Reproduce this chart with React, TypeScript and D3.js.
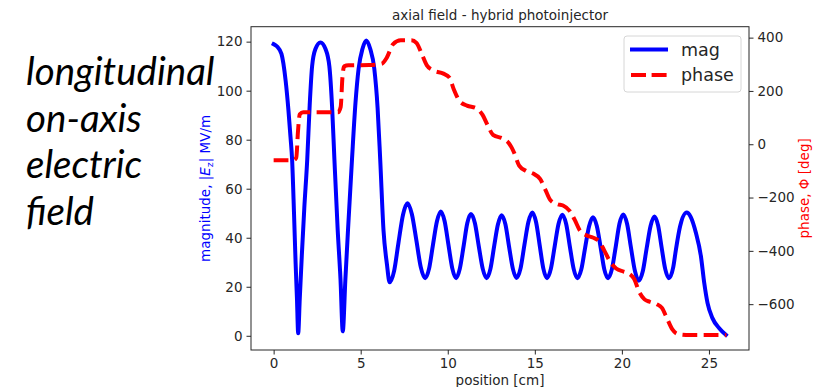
import { useEffect, useRef } from "react"
import * as d3 from "d3"

// magnitude |Ez| (MV/m) vs position (cm)
const magX = [0, 0.2, 0.45, 0.69, 0.85, 0.97, 1.06, 1.17, 1.26, 1.34, 1.41,
  1.5, 1.62, 1.76, 1.93, 2.07, 2.21, 2.4, 2.69, 2.98, 3.2, 3.36, 3.49, 3.68, 3.84, 3.97,
  4.12, 4.27, 4.5, 4.7, 4.88, 5.1, 5.32, 5.55, 5.78, 5.97, 6.12, 6.31, 6.51, 6.66,
  6.92, 7.17, 7.43, 7.69, 7.94, 8.2, 8.45, 8.7, 8.93, 9.15, 9.38, 9.6, 9.82, 10.04, 10.26, 10.48,
  10.69, 10.91, 11.12, 11.33, 11.56, 11.78, 12.01, 12.23, 12.45, 12.66, 12.88, 13.09, 13.31, 13.52, 13.74, 13.95,
  14.18, 14.4, 14.63, 14.86, 15.07, 15.28, 15.49, 15.7, 15.92, 16.14, 16.36, 16.58, 16.8, 17.01, 17.23, 17.44,
  17.67, 17.89, 18.12, 18.34, 18.56, 18.78, 18.99, 19.21, 19.43, 19.65, 19.86, 20.08, 20.3, 20.52, 20.75, 20.97,
  21.2, 21.42, 21.65, 21.87, 22.08, 22.28, 22.49, 22.7, 22.95, 23.1, 23.34, 23.72,
  23.95, 24.25, 24.54, 24.73, 24.92, 25.2, 25.59, 25.97]
const magY = [119, 118, 115, 104, 92, 81, 72, 50, 30, 15, 1,
  15, 33, 52, 72, 94, 110, 117, 119.7, 117, 110, 93, 72, 43, 23, 1.8,
  23, 43, 72, 95, 109, 117, 120.5, 117, 109, 93, 72, 43, 29, 21.8,
  26.5, 38, 49.4, 54.1, 49.6, 38.8, 28, 23.5, 27.5, 37.1, 46.7, 50.7, 46.7, 37.1, 27.5, 23.5,
  27.3, 36.6, 45.9, 49.7, 45.9, 36.6, 27.3, 23.5, 27.3, 36.4, 45.4, 49.2, 45.5, 36.4, 27.3, 23.6,
  27.5, 37, 46.4, 50.3, 46.4, 36.9, 27.4, 23.5, 27.3, 36.5, 45.6, 49.4, 45.6, 36.5, 27.3, 23.5,
  27.1, 36, 44.8, 48.4, 44.8, 36, 27.1, 23.5, 27.3, 36.5, 45.7, 49.5, 45.6, 36, 26.4, 22.5,
  26.3, 35.6, 44.9, 48.7, 45, 36.1, 27.2, 23.5, 28, 35, 44.6, 50.3,
  48.5, 42, 32.4, 21.5, 13.3, 7.2, 3.1, 0.4]

// phase (deg) vs position (cm)
const phaseX = [0, 1.15, 1.3, 1.4, 1.5, 1.7, 3.7, 3.85, 3.95, 4.05, 4.3, 5.5, 6.2, 6.5, 6.85, 7.3, 7.9, 8.2, 8.5, 8.8,
  9.2, 9.75, 10.1, 10.35, 10.7, 11.1, 11.66, 12.0, 12.3, 12.6, 13.2, 13.5, 13.8, 14.1, 14.5, 14.9, 15.3, 15.6, 15.9,
  16.3, 16.62, 17.0, 17.3, 17.6, 18.0, 18.33, 18.7, 19.0, 19.3, 19.67, 20.1, 20.4, 20.7, 21.0, 21.3, 21.6, 22.0,
  22.3, 22.6, 22.9, 23.2, 23.9, 26.0]
const phaseY = [-60, -60, -50, 50, 112, 120, 120, 140, 250, 292, 296, 297, 302, 325, 375, 390, 390, 380, 340, 296,
  276, 265, 250, 205, 160, 145, 134, 110, 70, 35, 20, 5, -30, -80, -100, -110, -130, -170, -210,
  -225, -230, -250, -285, -325, -343, -350, -365, -400, -438, -466, -478, -485, -505, -555, -582, -591, -600,
  -614, -655, -695, -712, -716, -716]

const xTicks = [0, 5, 10, 15, 20, 25]
const magTicks = [0, 20, 40, 60, 80, 100, 120]
const phaseTicks = [-600, -400, -200, 0, 200, 400]
const sideText = ["longitudinal", "on-axis", "electric", "field"]

const FONT = "DejaVu Sans"
const INK = "#262626"

export default function App() {
  const ref = useRef<SVGSVGElement>(null)
  useEffect(() => {
    if (!ref.current) return
    const svg = d3.select(ref.current)
    svg.selectAll("*").remove()
    const L = 251, R = 749, T = 26.7, B = 350

    const x = d3.scaleLinear().domain([-1.3, 27.3]).range([L, R])
    const yM = d3.scaleLinear().domain([-5.8, 126.1]).range([B, T])
    const yP = d3.scaleLinear().domain([-772, 441]).range([B, T])
    const minus = (d: any) => String(d).replace("-", "\u2212")

    const style = (g: any) => {
      g.select(".domain").remove()
      g.selectAll("line").attr("stroke", INK).attr("stroke-width", 1)
      g.selectAll("text").attr("fill", INK).style("font-family", FONT).style("font-size", "13.5px")
    }
    svg.append("g").attr("transform", `translate(0,${B})`)
      .call(d3.axisBottom(x).tickValues(xTicks).tickSize(4.5).tickPadding(4).tickFormat(minus)).call(style)
    svg.append("g").attr("transform", `translate(${L},0)`)
      .call(d3.axisLeft(yM).tickValues(magTicks).tickSize(4.5).tickPadding(4).tickFormat(minus)).call(style)
    svg.append("g").attr("transform", `translate(${R},0)`)
      .call(d3.axisRight(yP).tickValues(phaseTicks).tickSize(4.5).tickPadding(4).tickFormat(minus)).call(style)

    // curves
    const magLine = d3.line<number>().x((_, i) => x(magX[i])).y(d => yM(d)).curve(d3.curveMonotoneX)
    svg.append("path").attr("d", magLine(magY)).attr("fill", "none").attr("stroke", "#0000ff")
      .attr("stroke-width", 4).attr("stroke-linejoin", "round").attr("stroke-linecap", "square")
    const phaseLine = d3.line<number>().x((_, i) => x(phaseX[i])).y(d => yP(d)).curve(d3.curveMonotoneX)
    svg.append("path").attr("d", phaseLine(phaseY)).attr("fill", "none").attr("stroke", "#ff0000")
      .attr("stroke-width", 4).attr("stroke-dasharray", "14.8,6.4").attr("stroke-linejoin", "round")

    // frame
    svg.append("rect").attr("x", L).attr("y", T).attr("width", R - L).attr("height", B - T)
      .attr("fill", "none").attr("stroke", INK).attr("stroke-width", 1)

    // titles and labels
    svg.append("text").attr("x", (L + R) / 2).attr("y", 20).attr("text-anchor", "middle")
      .style("font-family", FONT).style("font-size", "13.5px").attr("fill", INK).text("axial field - hybrid photoinjector")
    svg.append("text").attr("x", (L + R) / 2).attr("y", 385).attr("text-anchor", "middle")
      .style("font-family", FONT).style("font-size", "13.5px").attr("fill", INK).text("position [cm]")

    const yl = svg.append("text").attr("transform", `translate(210,${(T + B) / 2}) rotate(-90)`)
      .attr("text-anchor", "middle").style("font-family", FONT).style("font-size", "13.5px").attr("fill", "#0000ff")
    yl.append("tspan").text("magnitude, |")
    yl.append("tspan").style("font-style", "italic").text("E")
    yl.append("tspan").attr("dy", 3).style("font-size", "9.5px").text("z")
    yl.append("tspan").attr("dy", -3).text("| MV/m")

    svg.append("text").attr("transform", `translate(809,${(T + B) / 2}) rotate(-90)`)
      .attr("text-anchor", "middle").style("font-family", FONT).style("font-size", "13.5px").attr("fill", "#ff0000")
      .text("phase, \u03a6 [deg]")

    // legend
    const lg = svg.append("g")
    lg.append("rect").attr("x", 624).attr("y", 36).attr("width", 117).attr("height", 56).attr("rx", 3)
      .attr("fill", "#fff").attr("fill-opacity", 0.8).attr("stroke", "#d6d6d6").attr("stroke-width", 1)
    lg.append("line").attr("x1", 630).attr("x2", 668).attr("y1", 49.5).attr("y2", 49.5)
      .attr("stroke", "#0000ff").attr("stroke-width", 4)
    lg.append("line").attr("x1", 631).attr("x2", 667).attr("y1", 75).attr("y2", 75)
      .attr("stroke", "#ff0000").attr("stroke-width", 4).attr("stroke-dasharray", "15,5.6")
    lg.append("text").attr("x", 681).attr("y", 55.5).style("font-family", FONT).style("font-size", "17.5px")
      .attr("fill", INK).text("mag")
    lg.append("text").attr("x", 681).attr("y", 81).style("font-family", FONT).style("font-size", "17.5px")
      .attr("fill", INK).text("phase")

    // side caption
    sideText.forEach((t, i) => {
      svg.append("text").attr("x", 26).attr("y", 85 + i * 46.7)
        .style("font-family", "Lato").style("font-style", "italic").style("font-size", "38.5px")
        .attr("fill", "#000").text(t)
    })
  }, [])
  return <svg ref={ref} width={819} height={387}
    style={{ position: "fixed", left: 0, top: 0, display: "block", background: "#fff" }} />
}
